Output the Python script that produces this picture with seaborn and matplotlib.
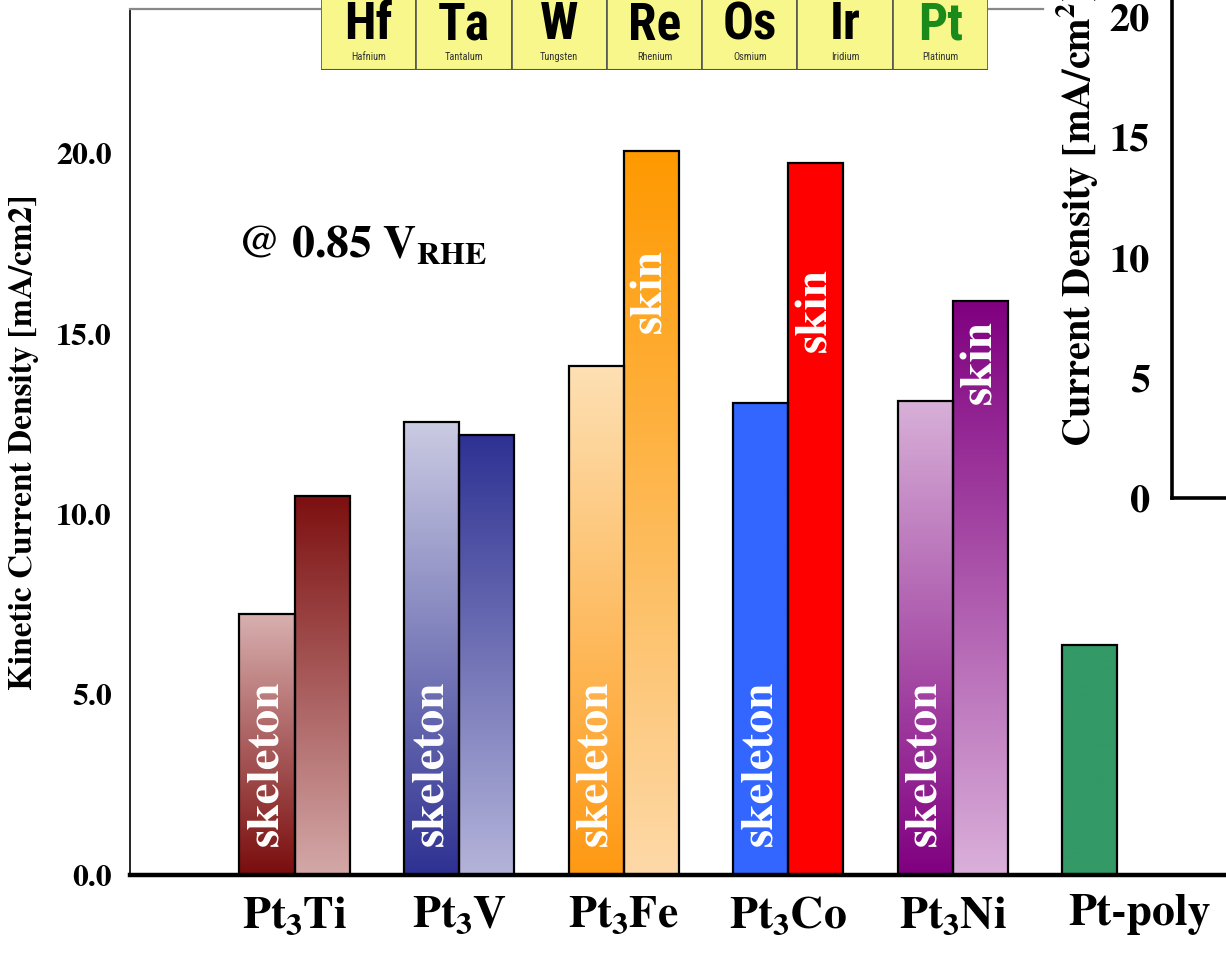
import numpy as np
import pandas as pd
import matplotlib
matplotlib.use("Agg")
import matplotlib.pyplot as plt
import matplotlib.transforms as mtransforms
from matplotlib.colors import LinearSegmentedColormap
from matplotlib.patches import Rectangle
from matplotlib.ticker import MultipleLocator, FormatStrFormatter
import seaborn as sns

# --- data ---
alloys = ["Pt3Ti", "Pt3V", "Pt3Fe", "Pt3Co", "Pt3Ni", "Pt-poly"]
alloy_labels = [r"Pt$_{\mathbf{3}}$Ti", r"Pt$_{\mathbf{3}}$V", r"Pt$_{\mathbf{3}}$Fe",
                r"Pt$_{\mathbf{3}}$Co", r"Pt$_{\mathbf{3}}$Ni", "Pt-poly"]
skeleton = [7.24, 12.57, 14.12, 13.09, 13.15, 6.38]
skin = [10.51, 12.21, 20.08, 19.75, 15.92, np.nan]

# (top colour, bottom colour) of each bar
skeleton_colors = [("#d9b0b0", "#7a0c0c"), ("#cbcbe3", "#2e3192"), ("#fde0b4", "#ff9912"),
                   ("#3366ff", "#3366ff"), ("#d8b0d8", "#800080"), ("#339966", "#339966")]
skin_colors = [("#7d1010", "#d4a8a8"), ("#2e3192", "#b4b4da"), ("#ff9900", "#fdd9a8"),
               ("#ff0000", "#ff0000"), ("#800080", "#dab0da"), None]

skeleton_tags = [True, True, True, True, True, False]
skin_tag_top = [None, None, 17.35, 16.85, 15.4, None]

main_ticks = [0, 5, 10, 15, 20]
inset_ticks = [0, 5, 10, 15, 20]

elements = ["Hf", "Ta", "W", "Re", "Os", "Ir", "Pt"]
element_names = ["Hafnium", "Tantalum", "Tungsten", "Rhenium", "Osmium", "Iridium", "Platinum"]
element_colors = ["black"] * 6 + ["#1a8a1a"]

df = pd.DataFrame({
    "alloy": alloys * 2,
    "surface": ["skeleton"] * len(alloys) + ["skin"] * len(alloys),
    "j": skeleton + skin,
}).dropna()

SERIF = "TeX Gyre Termes"
sns.set_style("white")
plt.rcParams["font.family"] = [SERIF, "DejaVu Serif"]
plt.rcParams["font.weight"] = "bold"
plt.rcParams["mathtext.fontset"] = "custom"
plt.rcParams["mathtext.rm"] = SERIF + ":bold"
plt.rcParams["mathtext.bf"] = SERIF + ":bold"
for key in ["text.color", "axes.labelcolor", "xtick.color", "ytick.color"]:
    plt.rcParams[key] = "black"

W, H = 1226, 956
fig = plt.figure(figsize=(W / 100, H / 100), dpi=100)
ax = fig.add_axes([130 / W, 1 - 875 / H, 1 - 130 / W, (875 - 9) / H])

sns.barplot(data=df, x="alloy", y="j", hue="surface", order=alloys,
            hue_order=["skeleton", "skin"], width=0.67, dodge=True, legend=False,
            errorbar=None, saturation=1, edgecolor="black", linewidth=1.6, ax=ax)

# gradient fills clipped to each bar
grad = np.linspace(0, 1, 256).reshape(-1, 1)
for patch in list(ax.patches):
    h = patch.get_height()
    if not np.isfinite(h) or h <= 0:
        continue
    x0, w = patch.get_x(), patch.get_width()
    xc = x0 + w / 2
    i = int(round(xc))
    top, bottom = skeleton_colors[i] if xc < i else skin_colors[i]
    cmap = LinearSegmentedColormap.from_list("g", [bottom, top])
    im = ax.imshow(grad, extent=[x0, x0 + w, 0, h], origin="lower", cmap=cmap,
                   aspect="auto", zorder=1.5)
    im.set_clip_path(patch)
    patch.set_facecolor("none")
    patch.set_zorder(2)

ax.set_xlim(-1.0, 5.66)
ax.set_ylim(0, 24.02)

for i in range(len(alloys)):
    if skeleton_tags[i]:
        ax.text(i - 0.1675, 0.8, "skeleton", rotation=90, ha="center", va="bottom",
                color="white", fontsize=34, fontweight="bold", zorder=3)
    if skin_tag_top[i] is not None:
        ax.text(i + 0.1675, skin_tag_top[i], "skin", rotation=90, ha="center", va="top",
                color="white", fontsize=34, fontweight="bold", zorder=3)

ax.text(0.098, 0.727, r"@ 0.85 V$_{\mathbf{RHE}}$", transform=ax.transAxes,
        fontsize=33, fontweight="bold", ha="left", va="center")

ax.set_yticks(main_ticks)
ax.yaxis.set_major_formatter(FormatStrFormatter("%.1f"))
ax.tick_params(axis="y", direction="in", length=7, width=1, labelsize=23, pad=13)
ax.set_xticks(range(len(alloys)))
ax.set_xticklabels(alloy_labels, fontsize=33, fontweight="bold")
ax.tick_params(axis="x", length=0, pad=14)
# Pt-poly label sits a little right of its slot
lab = ax.get_xticklabels()[-1]
lab.set_transform(lab.get_transform() + mtransforms.ScaledTranslation(22 / 100, 0, fig.dpi_scale_trans))
ax.set_xlabel("")
ax.set_ylabel("Kinetic Current Density [mA/cm2]", fontsize=24, fontweight="bold")
ax.yaxis.set_label_coords(-0.083, 0.5)

for sp in ax.spines.values():
    sp.set_visible(True)
ax.spines["right"].set_visible(False)
ax.spines["left"].set_color("black")
ax.spines["left"].set_linewidth(1.2)
ax.spines["bottom"].set_color("black")
ax.spines["bottom"].set_linewidth(3.2)
ax.spines["top"].set_color("#888888")
ax.spines["top"].set_linewidth(1.6)
ax.spines["top"].set_bounds(-1.0, 4.55)

# partial inset axes on the right
ins = fig.add_axes([1172 / W, 1 - 498 / H, 0.2, 498 / H])
ins.set_facecolor("none")
ins.set_ylim(0, 498 / 24.05)
ins.set_yticks(inset_ticks)
ins.yaxis.set_minor_locator(MultipleLocator(2.5))
ins.set_xticks([])
ins.tick_params(axis="y", which="major", direction="in", length=20, width=2.2,
                labelsize=29, pad=16)
ins.tick_params(axis="y", which="minor", direction="in", length=18, width=1.3)
for s in ["top", "right"]:
    ins.spines[s].set_visible(False)
for s in ["left", "bottom"]:
    ins.spines[s].set_visible(True)
    ins.spines[s].set_color("black")
    ins.spines[s].set_linewidth(2.6)
fig.text(1078 / W, 1 - 447 / H, r"Current Density [mA/cm$^{\mathbf{2}}$]", rotation=90,
         ha="center", va="bottom", fontsize=29, fontweight="bold")

# periodic table strip at the top
pt = fig.add_axes([321 / W, 1 - 70 / H, 667 / W, 80 / H])
pt.set_xlim(0, 7)
pt.set_ylim(70, -10)
pt.axis("off")
for k, (sym, name) in enumerate(zip(elements, element_names)):
    pt.add_patch(Rectangle((k, -10), 1, 80, facecolor="#f7f78c", edgecolor="#555555",
                           linewidth=1.2))
    pt.text(k + 0.5, 39, sym, ha="center", va="baseline", fontsize=37,
            fontweight="bold", family="Roboto Condensed", color=element_colors[k])
    pt.text(k + 0.5, 57, name, ha="center", va="center", fontsize=7.5,
            family="Roboto Condensed", fontweight="normal", color="#333333")
pt.plot([0, 7], [69.5, 69.5], color="#555555", lw=1.5)

fig.savefig("out.png", dpi=100)
